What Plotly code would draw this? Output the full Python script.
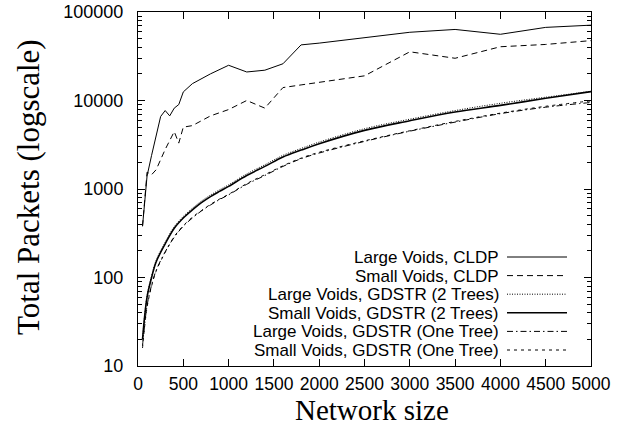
import plotly.graph_objects as go

# ---------------- data ----------------
x_large_cldp = [50, 100, 150, 250, 300, 350, 400, 450, 500, 600, 800, 1000, 1200, 1400,
                1600, 1800, 2000, 2500, 3000, 3500, 4000, 4500, 5000]
large_cldp = [380, 1400, 2400, 6600, 7700, 6700, 8200, 9000, 12500, 15500, 20000, 25000,
              21000, 22000, 26000, 42500, 44500, 51500, 59000, 63500, 56000, 67000, 71000]

x_small_cldp = [50, 100, 150, 200, 300, 400, 450, 500, 600, 800, 1000, 1200, 1400, 1600,
                1800, 2000, 2500, 3000, 3500, 4000, 4500, 5000]
small_cldp = [380, 1550, 1450, 1650, 2800, 4450, 3300, 5000, 5200, 6700, 7900, 10000, 8200,
              14000, 15000, 16000, 19000, 35500, 30000, 40500, 43000, 47500]

x_gdstr = [50, 100, 150, 200, 300, 400, 500, 600, 700, 800, 900, 1000, 1200, 1400, 1600,
           1800, 2000, 2500, 3000, 3500, 4000, 4500, 5000]
large_gdstr_2t = [20, 62, 104, 156, 250, 375, 490, 605, 730, 855, 980, 1115, 1480, 1880,
                  2400, 2870, 3390, 4800, 6150, 7700, 9300, 10900, 12700]
small_gdstr_2t = [20, 60, 100, 150, 240, 360, 470, 580, 700, 820, 940, 1070, 1420, 1800,
                  2300, 2750, 3250, 4600, 5900, 7400, 8800, 10600, 12600]
large_gdstr_1t = [17, 48, 82, 120, 195, 285, 380, 470, 565, 660, 760, 860, 1130, 1420,
                  1800, 2200, 2550, 3450, 4500, 5700, 7100, 8400, 9500]
small_gdstr_1t = [16, 46, 80, 118, 192, 290, 385, 480, 570, 670, 770, 870, 1150, 1450,
                  1830, 2230, 2600, 3500, 4550, 5800, 7200, 8600, 9900]

series_names = ["Large Voids, CLDP", "Small Voids, CLDP", "Large Voids, GDSTR (2 Trees)",
                "Small Voids, GDSTR (2 Trees)", "Large Voids, GDSTR (One Tree)",
                "Small Voids, GDSTR (One Tree)"]

x_tickvals = [0, 500, 1000, 1500, 2000, 2500, 3000, 3500, 4000, 4500, 5000]
y_tickvals = [10, 100, 1000, 10000, 100000]
y_ticktext = ["10", "100", "1000", "10000", "100000"]

# ---------------- layout constants ----------------
W, H = 629, 425
PL, PR, PT, PB = 138, 591, 12, 366      # plot box in window pixels
ML, MR, MT, MB = PL, W - PR, PT, H - PB
PW, PH = W - ML - MR, H - MT - MB


def px(x):
    return (x - ML) / PW


def py(y):
    return (H - MB - y) / PH


styles = [
    dict(color="black", width=1, dash="solid"),
    dict(color="black", width=1, dash="6px,4px"),
    dict(color="black", width=1, dash="1px,1.5px"),
    dict(color="black", width=1.6, dash="solid"),
    dict(color="black", width=1, dash="6px,3px,1.5px,3px"),
    dict(color="black", width=1, dash="3px,4px"),
]
shapes_line = ["linear", "linear", "spline", "spline", "spline", "spline"]

xs = [x_large_cldp, x_small_cldp, x_gdstr, x_gdstr, x_gdstr, x_gdstr]
ys = [large_cldp, small_cldp, large_gdstr_2t, small_gdstr_2t, large_gdstr_1t, small_gdstr_1t]

fig = go.Figure()
for name, x, y, st, sh in zip(series_names, xs, ys, styles, shapes_line):
    fig.add_trace(go.Scatter(x=x, y=y, mode="lines", name=name, line=dict(shape=sh, **st),
                             showlegend=False))

# manual legend (text right-aligned, sample to the right, as in gnuplot)
legend_top, legend_step = 257, 18.6
annotations = []
shapes = []
for i, (name, st) in enumerate(zip(series_names, styles)):
    ry = legend_top + i * legend_step
    annotations.append(dict(xref="paper", yref="paper", x=px(500), y=py(ry),
                            text=name, showarrow=False, xanchor="right", yanchor="middle",
                            height=18, borderpad=0,
                            font=dict(family="Liberation Sans, Arial", size=17, color="black")))
    shapes.append(dict(type="line", xref="paper", yref="paper",
                       x0=px(507), x1=px(567), y0=py(ry), y1=py(ry), line=st))

# axis titles
annotations.append(dict(xref="paper", yref="paper", x=px(372), y=py(410),
                        text="Network size", showarrow=False, xanchor="center", yanchor="middle",
                        font=dict(family="Liberation Serif, Times New Roman", size=29, color="black")))
annotations.append(dict(xref="paper", yref="paper", x=px(28), y=py(187),
                        text="Total Packets (logscale)", showarrow=False, textangle=-90,
                        xanchor="center", yanchor="middle",
                        font=dict(family="Liberation Serif, Times New Roman", size=31, color="black")))

fig.update_layout(
    width=W, height=H,
    margin=dict(l=ML, r=MR, t=MT, b=MB, pad=0, autoexpand=False),
    paper_bgcolor="white", plot_bgcolor="white",
    showlegend=False,
    annotations=annotations,
    shapes=shapes,
    font=dict(family="Liberation Sans, Arial", size=18, color="black"),
)
fig.update_xaxes(
    range=[0, 5000], tickvals=x_tickvals, ticks="inside", ticklen=7, tickwidth=1,
    tickcolor="black", showline=True, linecolor="black", linewidth=1, mirror="allticks",
    showgrid=False, zeroline=False, ticklabelstandoff=2, automargin=False,
    ticklabeloverflow="allow",
    tickfont=dict(family="Liberation Sans, Arial", size=17.5, color="black"),
)
fig.update_yaxes(
    type="log", range=[1, 5], tickvals=y_tickvals, ticktext=y_ticktext, ticks="inside",
    ticklen=7, tickwidth=1, tickcolor="black", showline=True, linecolor="black", linewidth=1,
    mirror="allticks", showgrid=False, zeroline=False, ticklabelstandoff=10, automargin=False,
    ticklabeloverflow="allow",
    minor=dict(ticks="inside", ticklen=4, tickcolor="black", dtick="D1", showgrid=False),
    tickfont=dict(family="Liberation Sans, Arial", size=18, color="black"),
)

fig.write_html("out.html", config={"displayModeBar": False},
               post_script="document.body.style.margin='0';")
